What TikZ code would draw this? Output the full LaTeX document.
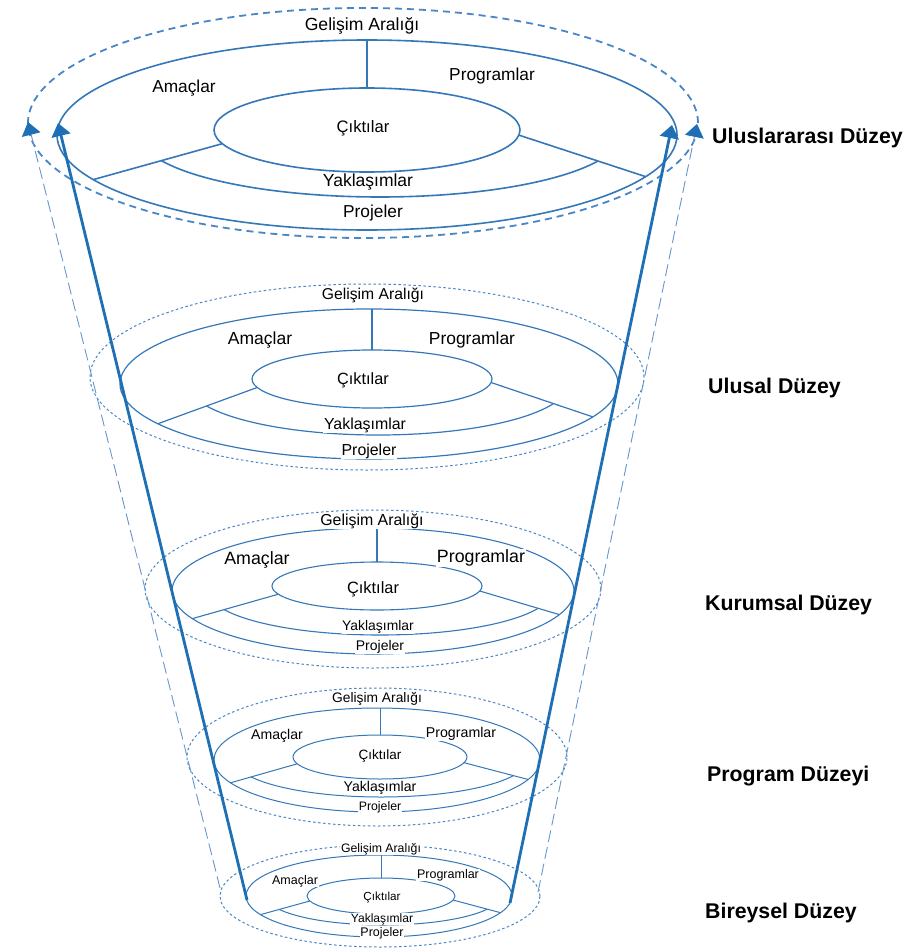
\documentclass[tikz,border=0pt]{standalone}
\usepackage{fontspec}
\setmainfont{Liberation Sans}
\usetikzlibrary{arrows.meta,calc}
\definecolor{thickblue}{RGB}{31,111,181}
\definecolor{ringblue}{RGB}{52,120,186}
\definecolor{dashblue}{RGB}{72,134,198}
\definecolor{thinblue}{RGB}{100,152,206}

\newcommand\lvOuter[4]{\def\ocx{#1}\def\ocy{#2}\def\orx{#3}\def\ory{#4}}
\newcommand\lvInner[4]{\def\icx{#1}\def\icy{#2}\def\irx{#3}\def\iry{#4}}
\newcommand\lvMid[4]{\def\mcx{#1}\def\mcy{#2}\def\mrx{#3}\def\mry{#4}}
\newcommand\lvDash[4]{\def\dcx{#1}\def\dcy{#2}\def\drx{#3}\def\dry{#4}}
\newcommand\lvAngles[4]{\def\tLo{#1}\def\tRo{#2}\def\tLi{#3}\def\tRi{#4}}

\newcommand\lvDraw[3]{%
  \draw[dashring,#3] (\dcx,\dcy) ellipse [x radius=\drx pt, y radius=\dry pt];
  \draw[ring,line width=#2] (\ocx,\ocy) ellipse [x radius=\orx pt, y radius=\ory pt];
  \draw[ring,line width=#2] (\icx,\icy) ellipse [x radius=\irx pt, y radius=\iry pt];
  \path (\ocx,\ocy) ++({\orx*cos(\tLo)},{\ory*sin(\tLo)}) coordinate (#1Lo);
  \path (\ocx,\ocy) ++({\orx*cos(\tRo)},{\ory*sin(\tRo)}) coordinate (#1Ro);
  \path (\icx,\icy) ++({\irx*cos(\tLi)},{\iry*sin(\tLi)}) coordinate (#1Li);
  \path (\icx,\icy) ++({\irx*cos(\tRi)},{\iry*sin(\tRi)}) coordinate (#1Ri);
  \draw[ring,line width=#2] (#1Li) -- (#1Lo) (#1Ri) -- (#1Ro);
  \draw[ring,line width=#2] (\icx,\icy-\iry) -- (\icx,\ocy-\ory);
  \begin{scope}
    \clip (#1Li) -- ($(#1Li)!4!(#1Lo)$) -- ++(0,300) -| ($(#1Ri)!4!(#1Ro)$) -- (#1Ri) -- cycle;
    \draw[ring,line width=#2] (\mcx,\mcy) ellipse [x radius=\mrx pt, y radius=\mry pt];
  \end{scope}
}
\newcommand\lab[5]{\node[lbl,font=\fontsize{#4}{#4}\selectfont] (#1) at (#2,#3) {#5};}

\begin{document}
\begin{tikzpicture}[x=1pt,y=-1pt,
  ring/.style={draw=ringblue, line width=1.1pt},
  dashring/.style={draw=dashblue, line width=1pt, dash pattern=on 2.5pt off 2.5pt},
  lbl/.style={fill=white, inner sep=0.6pt, text=black},
  lvl/.style={anchor=west, font=\fontsize{21.3}{24}\selectfont\bfseries, inner sep=0pt, text=black},
  cone/.style={draw=thickblue, line width=2.8pt},
  guide/.style={draw=thinblue, line width=0.9pt, dash pattern=on 12pt off 5pt},
  tip/.style={-{Triangle[length=13pt,width=19pt,color=thickblue]}}
]
\useasboundingbox (0,0) rectangle (907,952);
\fill[white] (0,0) rectangle (907,952);

% Level 1
\lvDash{363}{123}{335}{115}\lvOuter{367}{135}{310}{95}\lvInner{367}{130}{153}{42}
\lvMid{380}{135}{240}{62}\lvAngles{152}{26}{161}{7}
\lvDraw{a}{1.6pt}{line width=1.8pt, dash pattern=on 7pt off 5pt}
% Level 2
\lvDash{367}{377}{277}{93}\lvOuter{369}{384}{249}{75}\lvInner{372}{379}{120}{29}
\lvMid{378}{384}{190}{51}\lvAngles{148}{26}{163}{7}
\lvDraw{b}{1.2pt}{}
% Level 3
\lvDash{373}{589}{228}{79}\lvOuter{373}{591}{201}{63}\lvInner{377}{586}{105}{24}
\lvMid{380}{591}{172}{44}\lvAngles{154}{22}{160}{12}
\lvDraw{c}{1.1pt}{}
% Level 4
\lvDash{377}{757}{190}{69}\lvOuter{377}{760}{163}{52}\lvInner{380}{757}{87}{22}
\lvMid{381}{760}{146}{37}\lvAngles{154}{22}{162}{15}
\lvDraw{d}{1pt}{}
% Level 5
\lvDash{380}{896}{160}{51}\lvOuter{379}{896}{133}{41}\lvInner{381}{896}{74}{18}
\lvMid{383}{896}{117}{29}\lvAngles{153}{24}{164}{13}
\lvDraw{e}{1pt}{}

% cone lines
\coordinate (lb) at (247,900); \coordinate (lt) at (58,123);
\coordinate (rb) at (510,903); \coordinate (rt) at (672,125);
\coordinate (glb) at (220,888); \coordinate (glt) at (28,122);
\coordinate (grb) at (538,892); \coordinate (grt) at (697,124);
\draw[guide,tip] (glb) -- (glt);
\draw[guide,tip] (grb) -- (grt);
\draw[cone,tip] (lb) -- (lt);
\draw[cone,tip] (rb) -- (rt);

% labels level 1
\lab{a1}{362}{26}{17.6}{Gelişim Aralığı}
\lab{a2}{184}{88}{17.3}{Amaçlar}
\lab{a3}{492}{76}{17.3}{Programlar}
\lab{a4}{363}{128}{16.6}{Çıktılar}
\lab{a5}{368}{182}{17.5}{Yaklaşımlar}
\lab{a6}{373}{213}{17.3}{Projeler}
% level 2
\lab{b1}{373}{295}{15.7}{Gelişim Aralığı}
\lab{b2}{260}{340}{17.5}{Amaçlar}
\lab{b3}{472}{340}{17.4}{Programlar}
\lab{b4}{363}{380}{16.3}{Çıktılar}
\lab{b5}{365}{425}{15.9}{Yaklaşımlar}
\lab{b6}{369}{451}{15.9}{Projeler}
% level 3
\lab{c1}{372}{521}{15.9}{Gelişim Aralığı}
\lab{c2}{257}{560}{17.8}{Amaçlar}
\lab{c3}{481}{558}{17.8}{Programlar}
\lab{c4}{373}{589}{16.4}{Çıktılar}
\lab{c5}{378}{627}{13.9}{Yaklaşımlar}
\lab{c6}{380}{647}{14}{Projeler}
% level 4
\lab{d1}{377}{699}{13.8}{Gelişim Aralığı}
\lab{d2}{277}{736}{14.1}{Amaçlar}
\lab{d3}{461}{734}{14.2}{Programlar}
\lab{d4}{380}{756}{13.5}{Çıktılar}
\lab{d5}{380}{788}{14.1}{Yaklaşımlar}
\lab{d6}{380}{807}{12.3}{Projeler}
% level 5
\lab{e1}{381}{849}{12.3}{Gelişim Aralığı}
\lab{e2}{295}{881}{12.5}{Amaçlar}
\lab{e3}{448}{875}{12.5}{Programlar}
\lab{e4}{382}{897}{11.7}{Çıktılar}
\lab{e5}{382}{919}{12.1}{Yaklaşımlar}
\lab{e6}{382}{933}{12.5}{Projeler}

% level names
\node[lvl] (n1) at (712,138) {Uluslararası Düzey};
\node[lvl] (n2) at (708,388) {Ulusal Düzey};
\node[lvl] (n3) at (705,605) {Kurumsal Düzey};
\node[lvl] (n4) at (707,776) {Program Düzeyi};
\node[lvl] (n5) at (705,913) {Bireysel Düzey};
\end{tikzpicture}
\end{document}
